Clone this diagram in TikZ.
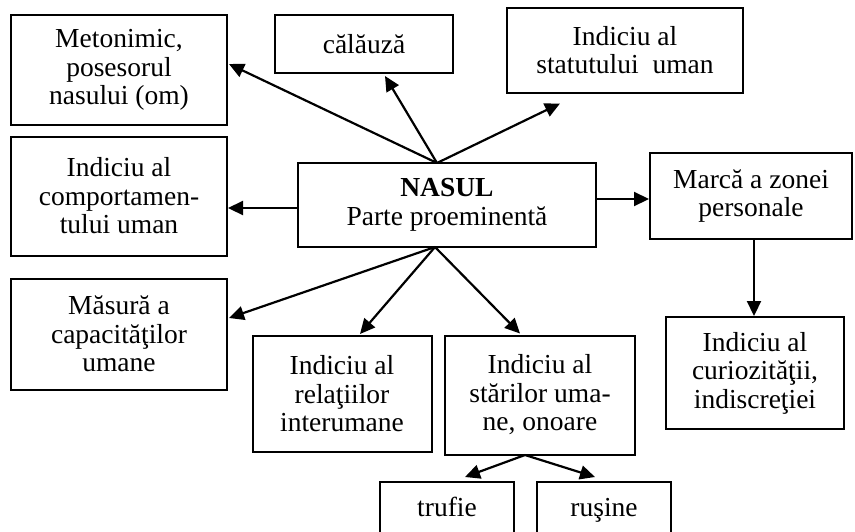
\documentclass[tikz,border=0pt]{standalone}
\usepackage{fontspec}
\setmainfont{Liberation Serif}
\usetikzlibrary{calc,arrows.meta}
\newcommand{\boxfont}{\fontsize{27.5}{28.5}\selectfont}
\newcommand{\makeconcept}[6]{
	\node[concept, minimum width=#4pt, minimum height=#5pt] (#1) at (#2,#3) {#6};
}

\begin{document}
\begin{tikzpicture}[x=1pt,y=-1pt,
	concept/.style={draw, line width=2pt, align=center, font=\boxfont, inner sep=1pt},
	link/.style={line width=2.2pt, -{Triangle[length=15pt,width=14pt]}}]
	\clip (0,0) rectangle (855,531);

	\makeconcept{meto}{119}{70}{216}{110}{Metonimic,\\posesorul\\nasului (om)}
	\makeconcept{calauza}{364}{44}{178}{58}{călăuză}
	\makeconcept{statut}{625}{50}{236}{85}{Indiciu al\\statutului\ \ uman}
	\makeconcept{comport}{119}{196}{216}{119}{Indiciu al\\comportamen-\\tului uman}
	\makeconcept{nasul}{447}{205}{298}{84}{\textbf{NASUL}\\Parte proeminentă}
	\makeconcept{marca}{751}{196}{202}{86}{Marcă a zonei\\personale}
	\makeconcept{masura}{119}{334}{216}{111}{Măsură a\\capacităţilor\\umane}
	\makeconcept{relatii}{342}{394}{179}{116}{Indiciu al\\relaţiilor\\interumane}
	\makeconcept{stari}{540}{395}{190}{119}{Indiciu al\\stărilor uma-\\ne, onoare}
	\makeconcept{curioz}{755}{373}{178}{112}{Indiciu al\\curiozităţii,\\indiscreţiei}
	\node[concept, anchor=north, minimum width=134pt, inner ysep=5pt, text height=29pt, text depth=40pt] (trufie) at (447,481) {trufie};
	\node[concept, anchor=north, minimum width=134pt, inner ysep=5pt, text height=29pt, text depth=40pt] (rusine) at (604,481) {ruşine};

	\coordinate (ntop) at (437,163);
	\coordinate (nbot) at (435,247);
	\coordinate (sbot) at (525,455);

	\draw[link] (ntop) -- ($(meto.east)+(1,-6)$);
	\draw[link] (ntop) -- ($(calauza.south)+(21,2)$);
	\draw[link] (ntop) -- ($(statut.south)+(-65,10)$);
	\draw[link] (nasul.west |- 0,208) -- (comport.east |- 0,208);
	\draw[link] (nasul.east |- 0,199) -- (marca.west |- 0,199);
	\draw[link] (marca.south -| 754,0) -- (curioz.north -| 754,0);
	\draw[link] (nbot) -- ($(masura.east)+(1,-16)$);
	\draw[link] (nbot) -- ($(relatii.north)+(18,-1)$);
	\draw[link] (nbot) -- ($(stari.north)+(-20,-1)$);
	\draw[link] (sbot) -- ($(trufie.north)+(18,-4)$);
	\draw[link] (sbot) -- ($(rusine.north)+(-9,-4)$);
\end{tikzpicture}
\end{document}
